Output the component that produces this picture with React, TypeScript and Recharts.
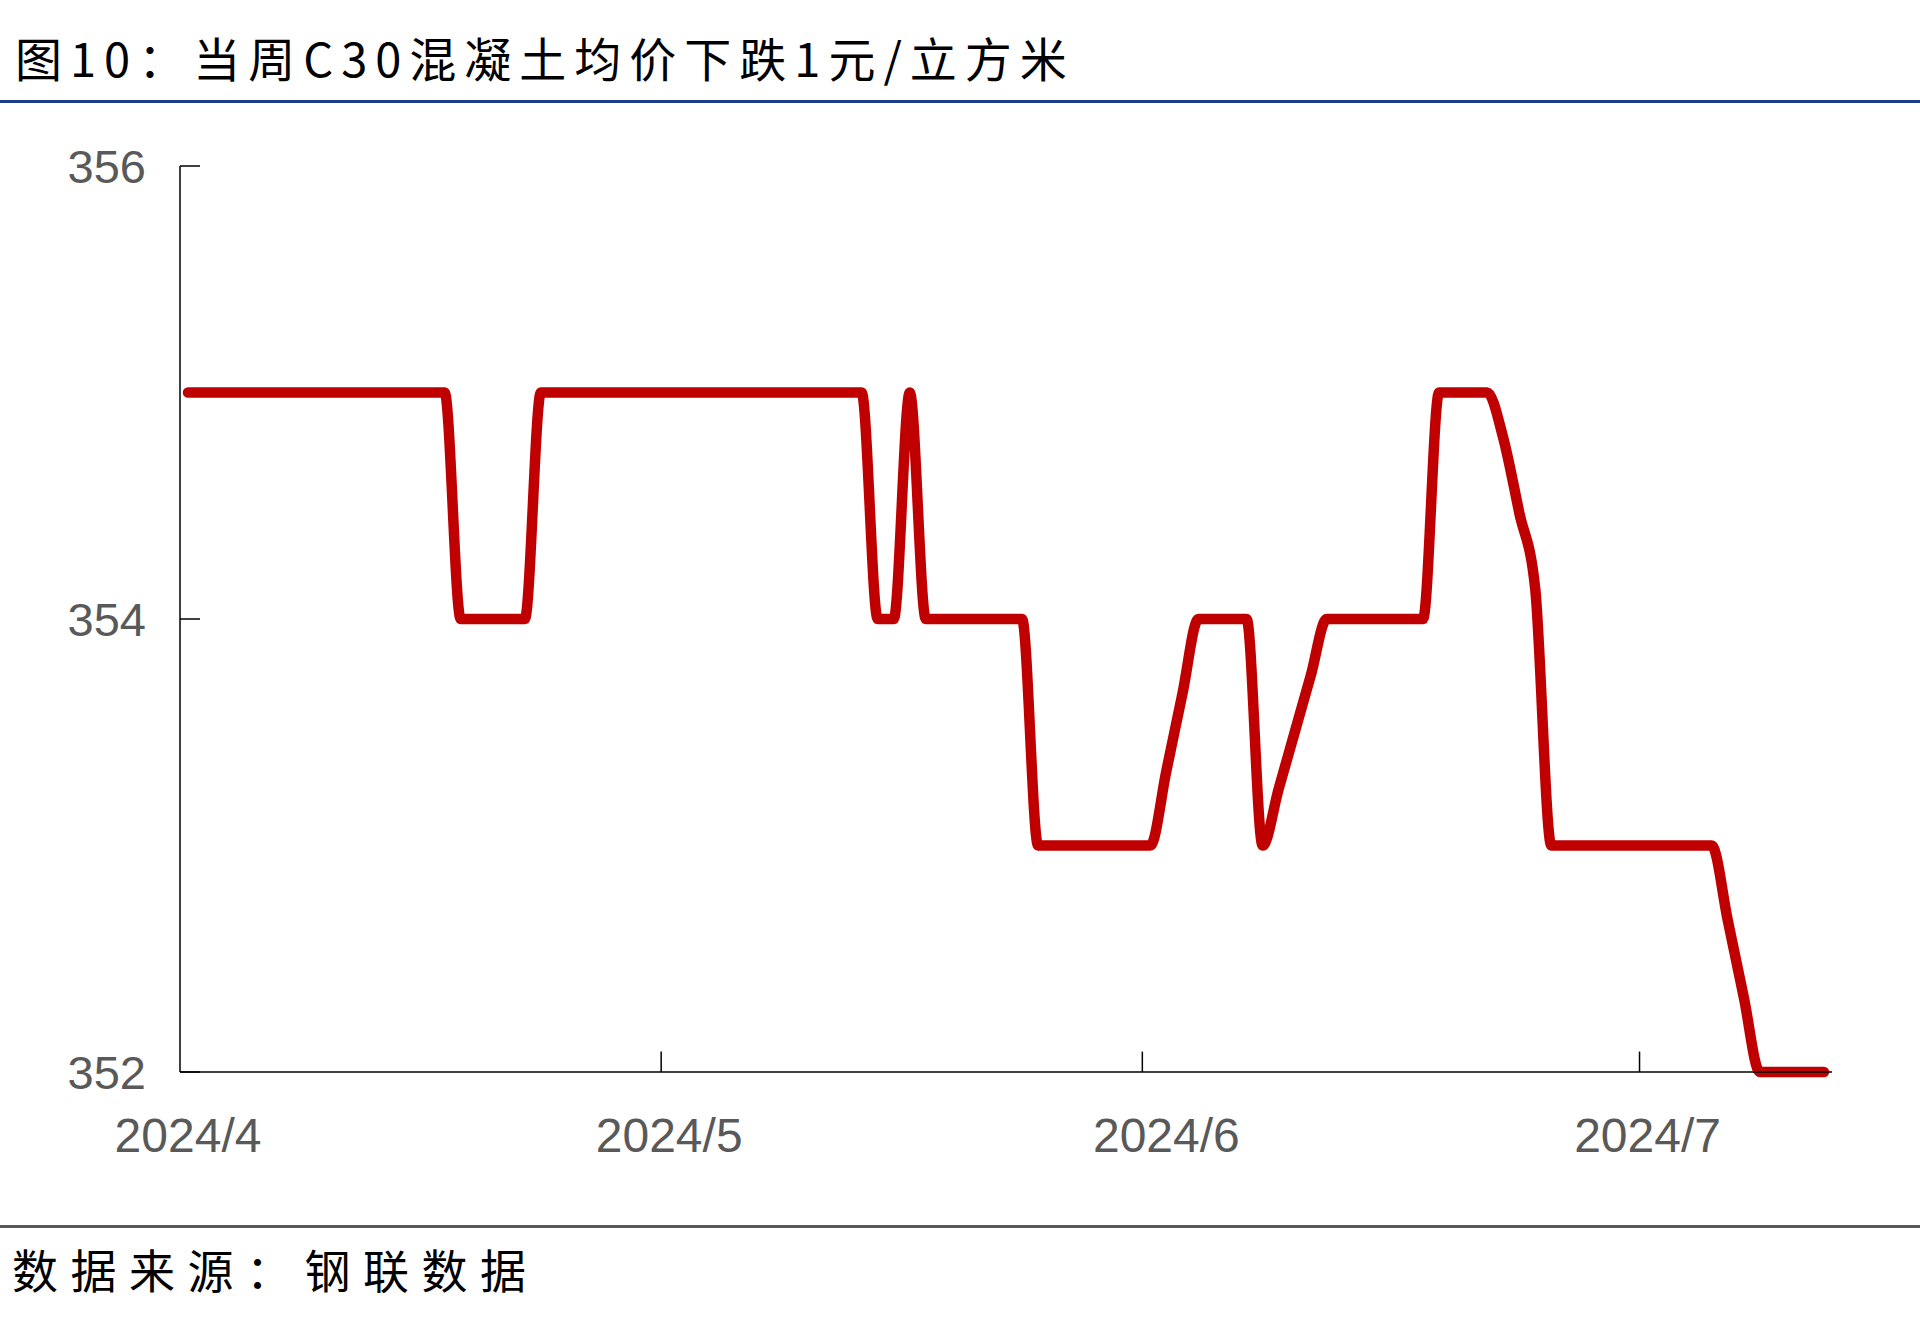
import { LineChart, Line, XAxis, YAxis, ReferenceLine } from 'recharts'

// C30 concrete average price, one value per category (daily), 2024/4 - 2024/7
const prices = [
  355, 355, 355, 355, 355, 355, 355, 355, 355, 355,
  355, 355, 355, 355, 355, 355, 355, 354, 354, 354,
  354, 354, 355, 355, 355, 355, 355, 355, 355, 355,
  355, 355, 355, 355, 355, 355, 355, 355, 355, 355,
  355, 355, 355, 354, 354, 355, 354, 354, 354, 354,
  354, 354, 354, 353, 353, 353, 353, 353, 353, 353,
  353, 353.33, 353.67, 354, 354, 354, 354, 353, 353.25, 353.5,
  353.75, 354, 354, 354, 354, 354, 354, 354, 355, 355,
  355, 355, 354.8, 354.47, 354.13, 353, 353, 353, 353, 353,
  353, 353, 353, 353, 353, 353, 352.67, 352.33, 352, 352,
  352, 352, 352,
]

const monthLabels = ['2024/4', '2024/5', '2024/6', '2024/7']
const monthLabelAt = [0, 30, 61, 91]
const monthEdges = [29.5, 59.5, 90.5]
const yTicks = [352, 354, 356]

const data = prices.map((price, i) => ({ i, price }))

const axisFont = '"Liberation Sans", Arial, sans-serif'
const cjkFont = '"Noto Sans CJK SC", sans-serif'

export default function App() {
  return (
    <div
      style={{
        position: 'absolute',
        left: 0,
        top: 0,
        width: 1920,
        height: 1331,
        background: '#fff',
        overflow: 'hidden',
      }}
    >
      <div
        style={{
          position: 'absolute',
          left: 15,
          top: 33,
          fontFamily: cjkFont,
          fontSize: 47,
          lineHeight: '47px',
          letterSpacing: 8,
          color: '#000',
          whiteSpace: 'nowrap',
        }}
      >
        图10：当周C30混凝土均价下跌1元/立方米
      </div>
      <div style={{ position: 'absolute', left: 0, top: 100, width: 1920, height: 3, background: '#1a3c8c' }} />

      <div style={{ position: 'absolute', left: 0, top: 0 }}>
        <LineChart width={1920} height={1200} data={data} margin={{ top: 166, right: 88, bottom: 28, left: 0 }}>
          <XAxis
            type="number"
            dataKey="i"
            domain={[-0.5, prices.length - 0.5]}
            ticks={monthLabelAt}
            interval={0}
            tickFormatter={(v) => monthLabels[monthLabelAt.indexOf(v)]}
            tickLine={false}
            tickSize={0}
            tickMargin={46}
            height={100}
            axisLine={{ stroke: '#000', strokeWidth: 1.5 }}
            tick={{ fill: '#595959', fontSize: 48, fontFamily: axisFont }}
          />
          <YAxis
            domain={[352, 356]}
            ticks={yTicks}
            interval={0}
            width={180}
            tickSize={-20}
            tickMargin={54}
            axisLine={{ stroke: '#000', strokeWidth: 1.5 }}
            tickLine={{ stroke: '#000', strokeWidth: 1.5 }}
            tick={{ fill: '#595959', fontSize: 47, fontFamily: axisFont }}
          />
          {monthEdges.map((x) => (
            <ReferenceLine
              key={x}
              segment={[
                { x, y: 352 },
                { x, y: 352.09 },
              ]}
              stroke="#000"
              strokeWidth={1.5}
            />
          ))}
          <Line
            type="monotone"
            dataKey="price"
            stroke="#c00000"
            strokeWidth={10.5}
            strokeLinecap="round"
            strokeLinejoin="round"
            dot={false}
            activeDot={false}
            isAnimationActive={false}
          />
        </LineChart>
      </div>

      <div style={{ position: 'absolute', left: 0, top: 1225, width: 1920, height: 3, background: '#595959' }} />
      <div
        style={{
          position: 'absolute',
          left: 12,
          top: 1245,
          fontFamily: cjkFont,
          fontSize: 46,
          lineHeight: '46px',
          letterSpacing: 12.5,
          color: '#000',
          whiteSpace: 'nowrap',
        }}
      >
        数据来源：钢联数据
      </div>
    </div>
  )
}
